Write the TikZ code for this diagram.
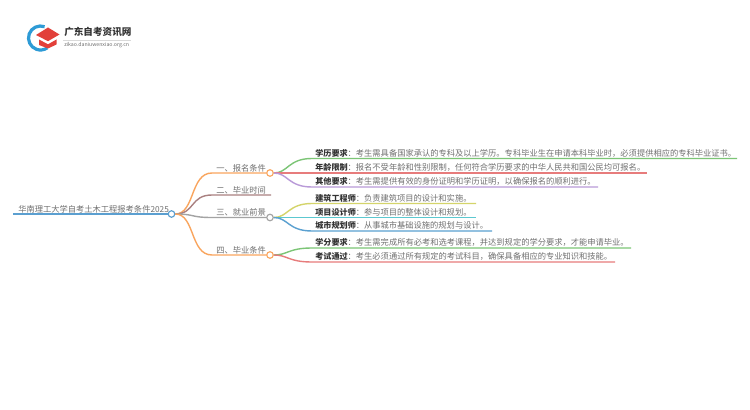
\documentclass[tikz,border=0pt]{standalone}
\usepackage{fontspec}
\setmainfont{Noto Sans CJK SC}
\definecolor{txt}{HTML}{707070}
\definecolor{cOrange}{HTML}{F9A55E}
\definecolor{cBrown}{HTML}{A98080}
\definecolor{cGray}{HTML}{A3A3A3}
\definecolor{cBlue}{HTML}{5B9FD0}
\definecolor{cGreen}{HTML}{7CC576}
\definecolor{cRed}{HTML}{E77C7C}
\definecolor{cPurple}{HTML}{B99AD8}
\definecolor{cYellow}{HTML}{D4D46A}
\definecolor{cCyan}{HTML}{5CC8D0}
\definecolor{cBlue2}{HTML}{5AA0D0}
\definecolor{logoBlue}{HTML}{2E9BD6}
\definecolor{logoRed}{HTML}{E2403A}
\tikzset{
  x=0.75pt,y=-0.75pt,
  dot/.style={circle,draw=#1,fill=white,line width=0.85pt,minimum size=4.9pt,inner sep=0pt},
  tline/.style={line width=1.05pt},
  lbl/.style={text=txt,font=\fontsize{6.2pt}{7pt}\selectfont,inner sep=0pt,anchor=base west},
  leaf/.style={text=txt,font=\fontsize{6.2pt}{7pt}\selectfont,inner sep=0pt,anchor=base west},
  head/.style={text=black!80,font=\fontsize{6.1pt}{7pt}\selectfont\bfseries,inner sep=0pt,anchor=base west},
}
\newcommand{\leafrow}[7]{% name, colour, y, xend, head, text, parent
  \coordinate (#1s) at (312,#3);
  \coordinate (#1e) at (#4,#3);
  \draw[#2,tline] (#7) .. controls +(18,0) and (288,#3) .. (#1s) -- (#1e);
  \path (315,#3) ++(0,-2.2) node[head] (#1h) {#5};
  \node[leaf] (#1t) at ([xshift=-0.5pt]#1h.base east) {：#6};
}
\begin{document}
\begin{tikzpicture}
\useasboundingbox (0,0) rectangle (750,410);
\fill[white] (0,0) rectangle (750,410);
% logo
\draw[logoBlue,line width=2.4pt] (40.5,38) ++(-70:12) arc[start angle=-70,end angle=-305,radius=12];
\fill[logoRed] (48,27.5) -- (59.5,34.5) -- (48,41.2) -- (36,35) -- cycle;
\fill[logoRed] (39,39.5) -- (48,44.3) -- (56.5,39.5) -- (56.5,44.5) -- (48,48.5) -- (39,45) -- cycle;
\node[inner sep=0pt,anchor=west,text=black!80,font=\fontsize{7.2pt}{8pt}\selectfont\bfseries] (logot) at (64,32) {广东自考资讯网};
\node[inner sep=0pt,anchor=west,text=txt,font=\fontsize{3.9pt}{4pt}\selectfont] (logou) at (64,45.5) {zikao.daniuwenxiao.org.cn};
\draw[black!15,line width=0.4pt] (63,40) -- (131,40);
% root
\coordinate (rs) at (13,214);
\node[dot=cBlue] (root) at (171.5,214) {};
\draw[cBlue,line width=1.2pt] (rs) -- (root);
\node[lbl] (roott) at (18,212) {华南理工大学自考土木工程报考条件2025};
% level one
\node[dot=cOrange] (a) at (270,173) {};
\node[dot=cGray] (c) at (270,217.5) {};
\node[dot=cOrange] (d) at (270,255) {};
\coordinate (b) at (271,195);
\draw[cOrange,tline] (root) .. controls (195,214) and (190,173) .. (212,173) -- (a);
\draw[cBrown,tline] (root) .. controls (195,214) and (190,195) .. (212,195) -- (b);
\draw[cGray,tline] (root) .. controls (195,214) and (190,217.5) .. (212,217.5) -- (c);
\draw[cOrange,tline] (root) .. controls (195,214) and (190,255) .. (212,255) -- (d);
\node[lbl] (at) at (216,171.3) {一、报名条件};
\node[lbl] (bt) at (216,193) {二、毕业时间};
\node[lbl] (ct) at (216,215.5) {三、就业前景};
\node[lbl] (dt) at (216,253) {四、毕业条件};
% leaves
\leafrow{l1}{cGreen}{158.5}{737}{学历要求}{考生需具备国家承认的专科及以上学历。专科毕业生在申请本科毕业时，必须提供相应的专科毕业证书。}{a}
\leafrow{l2}{cRed}{173}{647}{年龄限制}{报名不受年龄和性别限制，任何符合学历要求的中华人民共和国公民均可报名。}{a}
\leafrow{l3}{cPurple}{187}{598}{其他要求}{考生需提供有效的身份证明和学历证明，以确保报名的顺利进行。}{a}
\leafrow{m1}{cYellow}{203.5}{476}{建筑工程师}{负责建筑项目的设计和实施。}{c}
\leafrow{m2}{cCyan}{217.5}{476}{项目设计师}{参与项目的整体设计和规划。}{c}
\leafrow{m3}{cBlue2}{231}{492}{城市规划师}{从事城市基础设施的规划与设计。}{c}
\leafrow{n1}{cGreen}{248}{631}{学分要求}{考生需完成所有必考和选考课程，并达到规定的学分要求，才能申请毕业。}{d}
\leafrow{n2}{cRed}{262}{615}{考试通过}{考生必须通过所有规定的考试科目，确保具备相应的专业知识和技能。}{d}
\end{tikzpicture}
\end{document}
